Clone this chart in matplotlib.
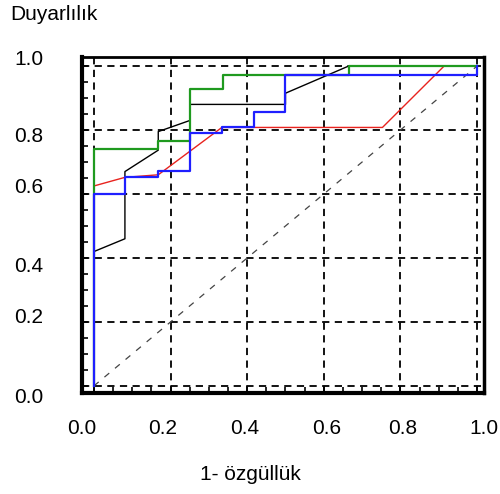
import numpy as np
import matplotlib
matplotlib.use('Agg')
import matplotlib.pyplot as plt
import matplotlib.transforms as mtransforms
from matplotlib.ticker import MultipleLocator

plt.rcParams['font.family'] = ['Liberation Sans', 'DejaVu Sans']

# ROC curves (1-specificity, sensitivity)
green_x = [0.0, 0.0, 0.0, 0.168, 0.168, 0.251, 0.251, 0.337, 0.337, 0.665, 0.665, 1.0]
green_y = [0.0, 0.62, 0.74, 0.74, 0.766, 0.766, 0.927, 0.927, 0.972, 0.972, 1.0, 1.0]

black_x = [0.0, 0.0, 0.081, 0.081, 0.168, 0.168, 0.251, 0.251, 0.5, 0.5, 0.665, 1.0]
black_y = [0.0, 0.42, 0.46, 0.67, 0.737, 0.795, 0.83, 0.88, 0.88, 0.915, 1.0, 1.0]

red_x = [0.0, 0.0, 0.081, 0.168, 0.334, 0.753, 0.914, 1.0]
red_y = [0.0, 0.625, 0.652, 0.66, 0.808, 0.808, 1.0, 1.0]

blue_x = [0.0, 0.0, 0.081, 0.081, 0.168, 0.168, 0.251, 0.251, 0.334, 0.334,
          0.417, 0.417, 0.5, 0.5, 1.0, 1.0]
blue_y = [0.0, 0.6, 0.6, 0.652, 0.652, 0.673, 0.673, 0.79, 0.79, 0.808,
          0.808, 0.855, 0.855, 0.972, 0.972, 1.0]

ticks = [0.0, 0.2, 0.4, 0.6, 0.8, 1.0]
tick_labels = ['0.0', '0.2', '0.4', '0.6', '0.8', '1.0']

# the original software puts its tick labels a little off the ticks (pixels)
xlab_shift = [-12, -8, -2, 3, 2, 7]
ylab_shift = [-9.5, 6.5, -6.5, 8, -4.5, 8.5]

fig = plt.figure(figsize=(5.0, 4.94), dpi=100)
ax = fig.add_axes([0.164, 0.2045, 0.804, 0.68])

# grid
for t in ticks:
    ax.axvline(t, color='black', lw=1.3, ls=(0, (4, 3)), zorder=1)
    ax.axhline(t, color='black', lw=1.3, ls=(0, (4, 3)), zorder=1)

# chance line
ax.plot([0, 1], [0, 1], color='#444444', lw=0.9, ls=(0, (5, 6)), zorder=2)

ax.plot(black_x, black_y, color='black', lw=1.0, zorder=3)
ax.plot(red_x, red_y, color='#e8231e', lw=1.0, zorder=3)
ax.plot(green_x, green_y, color='#1f9a1f', lw=1.6, zorder=4)
ax.plot(blue_x, blue_y, color='#1f1fff', lw=1.6, zorder=5)

ax.set_xlim(-0.031, 1.018)
ax.set_ylim(-0.022, 1.028)

ax.set_xticks(ticks)
ax.set_xticklabels(tick_labels, fontsize=15)
ax.set_yticks(ticks)
ax.set_yticklabels(tick_labels, fontsize=15)
ax.xaxis.set_minor_locator(MultipleLocator(0.05))
ax.yaxis.set_minor_locator(MultipleLocator(0.05))
ax.tick_params(axis='both', which='both', direction='in', length=4, width=1.2)
ax.tick_params(axis='x', which='major', pad=19)
ax.tick_params(axis='y', which='major', pad=28)

for lab, dx in zip(ax.get_xticklabels(), xlab_shift):
    lab.set_transform(lab.get_transform() + mtransforms.ScaledTranslation(dx / 100, 0, fig.dpi_scale_trans))
for lab, dy in zip(ax.get_yticklabels(), ylab_shift):
    lab.set_transform(lab.get_transform() + mtransforms.ScaledTranslation(0, dy / 100, fig.dpi_scale_trans))

ax.spines['left'].set_linewidth(3)
ax.spines['bottom'].set_linewidth(3)
ax.spines['top'].set_linewidth(2)
ax.spines['right'].set_linewidth(2.5)

fig.text(0.02, 0.97, 'Duyarlılık', fontsize=15, ha='left', va='center')
fig.text(0.5, 0.039, '1- özgüllük', fontsize=15, ha='center', va='center')

fig.savefig('out.png', dpi=100)
